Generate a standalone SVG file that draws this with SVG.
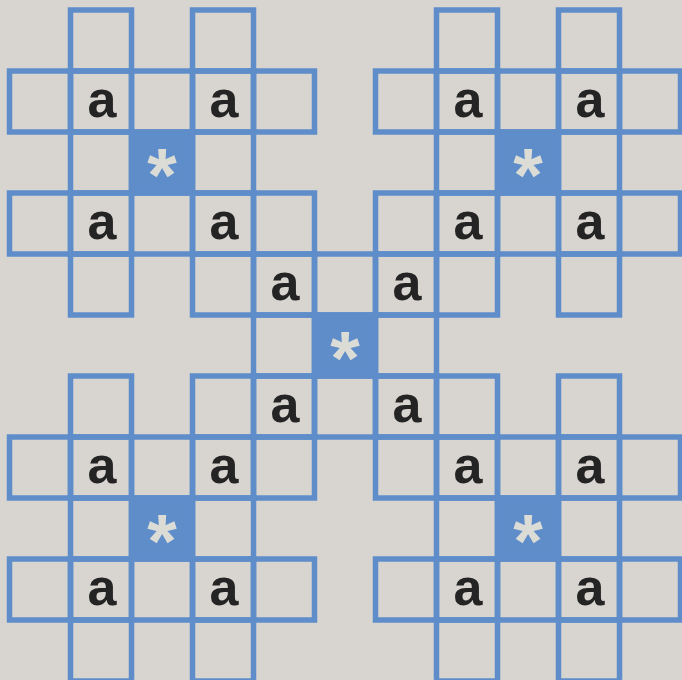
<svg xmlns="http://www.w3.org/2000/svg" width="682" height="680" viewBox="0 0 682 680">
<style>
.cell{fill:none;stroke:#5e8dca;stroke-width:5.5}
.star{fill:#5e8dca;stroke:#5e8dca;stroke-width:5.5}
.a{font-family:"Liberation Sans",Arial,sans-serif;font-weight:bold;font-size:52px;fill:#242424;text-anchor:middle}
.ast{font-family:"Liberation Sans",Arial,sans-serif;font-weight:bold;font-size:76px;fill:#dcdcd6;text-anchor:middle}
</style>
<defs>
<rect id="c" class="cell" width="61" height="61"/>
</defs>
<rect width="682" height="680" fill="#d8d5d0"/>
<g id="grid">
<g id="top-left">
<use href="#c" x="70.5" y="10"/><use href="#c" x="192.5" y="10"/>
<use href="#c" x="9.5" y="71"/><use href="#c" x="70.5" y="71"/><use href="#c" x="131.5" y="71"/><use href="#c" x="192.5" y="71"/><use href="#c" x="253.5" y="71"/>
<use href="#c" x="70.5" y="132"/><use href="#c" x="192.5" y="132"/>
<use href="#c" x="9.5" y="193"/><use href="#c" x="70.5" y="193"/><use href="#c" x="131.5" y="193"/><use href="#c" x="192.5" y="193"/><use href="#c" x="253.5" y="193"/>
<use href="#c" x="70.5" y="254"/><use href="#c" x="192.5" y="254"/>
</g>
<g id="top-right">
<use href="#c" x="436.5" y="10"/><use href="#c" x="558.5" y="10"/>
<use href="#c" x="375.5" y="71"/><use href="#c" x="436.5" y="71"/><use href="#c" x="497.5" y="71"/><use href="#c" x="558.5" y="71"/><use href="#c" x="619.5" y="71"/>
<use href="#c" x="436.5" y="132"/><use href="#c" x="558.5" y="132"/>
<use href="#c" x="375.5" y="193"/><use href="#c" x="436.5" y="193"/><use href="#c" x="497.5" y="193"/><use href="#c" x="558.5" y="193"/><use href="#c" x="619.5" y="193"/>
<use href="#c" x="436.5" y="254"/><use href="#c" x="558.5" y="254"/>
</g>
<g id="center">
<use href="#c" x="253.5" y="254"/><use href="#c" x="314.5" y="254"/><use href="#c" x="375.5" y="254"/>
<use href="#c" x="253.5" y="315"/><use href="#c" x="375.5" y="315"/>
<use href="#c" x="192.5" y="376"/><use href="#c" x="253.5" y="376"/><use href="#c" x="314.5" y="376"/><use href="#c" x="375.5" y="376"/><use href="#c" x="436.5" y="376"/>
</g>
<g id="bottom-left">
<use href="#c" x="70.5" y="376"/>
<use href="#c" x="9.5" y="437"/><use href="#c" x="70.5" y="437"/><use href="#c" x="131.5" y="437"/><use href="#c" x="192.5" y="437"/><use href="#c" x="253.5" y="437"/>
<use href="#c" x="70.5" y="498"/><use href="#c" x="192.5" y="498"/>
<use href="#c" x="9.5" y="559"/><use href="#c" x="70.5" y="559"/><use href="#c" x="131.5" y="559"/><use href="#c" x="192.5" y="559"/><use href="#c" x="253.5" y="559"/>
<use href="#c" x="70.5" y="620"/><use href="#c" x="192.5" y="620"/>
</g>
<g id="bottom-right">
<use href="#c" x="558.5" y="376"/>
<use href="#c" x="375.5" y="437"/><use href="#c" x="436.5" y="437"/><use href="#c" x="497.5" y="437"/><use href="#c" x="558.5" y="437"/><use href="#c" x="619.5" y="437"/>
<use href="#c" x="436.5" y="498"/><use href="#c" x="558.5" y="498"/>
<use href="#c" x="375.5" y="559"/><use href="#c" x="436.5" y="559"/><use href="#c" x="497.5" y="559"/><use href="#c" x="558.5" y="559"/><use href="#c" x="619.5" y="559"/>
<use href="#c" x="436.5" y="620"/><use href="#c" x="558.5" y="620"/>
</g>
</g>
<g id="stars">
<g id="star-tl"><rect class="star" x="131.5" y="132" width="61" height="61"/><text class="ast" x="162" y="201">*</text></g>
<g id="star-tr"><rect class="star" x="497.5" y="132" width="61" height="61"/><text class="ast" x="528" y="201">*</text></g>
<g id="star-c"><rect class="star" x="314.5" y="315" width="61" height="61"/><text class="ast" x="345" y="384">*</text></g>
<g id="star-bl"><rect class="star" x="131.5" y="498" width="61" height="61"/><text class="ast" x="162" y="567">*</text></g>
<g id="star-br"><rect class="star" x="497.5" y="498" width="61" height="61"/><text class="ast" x="528" y="567">*</text></g>
</g>
<g id="letters">
<text class="a" x="102" y="117">a</text><text class="a" x="224" y="117">a</text>
<text class="a" x="102" y="239">a</text><text class="a" x="224" y="239">a</text>
<text class="a" x="468" y="117">a</text><text class="a" x="590" y="117">a</text>
<text class="a" x="468" y="239">a</text><text class="a" x="590" y="239">a</text>
<text class="a" x="285" y="300">a</text><text class="a" x="407" y="300">a</text>
<text class="a" x="285" y="422">a</text><text class="a" x="407" y="422">a</text>
<text class="a" x="102" y="483">a</text><text class="a" x="224" y="483">a</text>
<text class="a" x="102" y="605">a</text><text class="a" x="224" y="605">a</text>
<text class="a" x="468" y="483">a</text><text class="a" x="590" y="483">a</text>
<text class="a" x="468" y="605">a</text><text class="a" x="590" y="605">a</text>
</g>
</svg>
